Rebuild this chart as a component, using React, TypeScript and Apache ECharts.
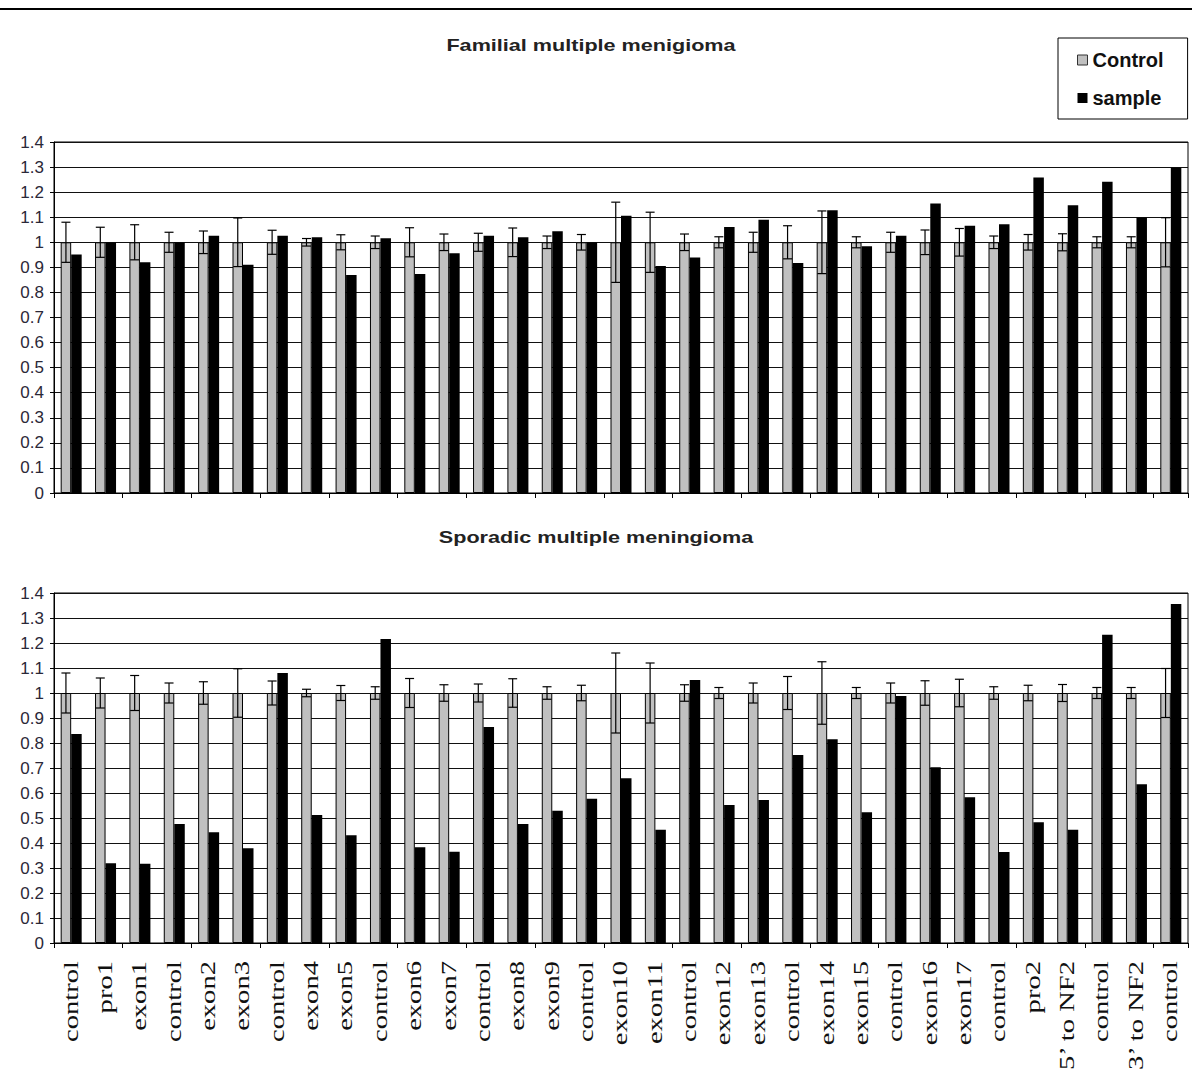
import React, { useEffect, useRef } from "react";
import * as echarts from "echarts";

const categories = [
  "control", "pro1", "exon1", "control", "exon2", "exon3", "control", "exon4", "exon5", "control",
  "exon6", "exon7", "control", "exon8", "exon9", "control", "exon10", "exon11", "control", "exon12",
  "exon13", "control", "exon14", "exon15", "control", "exon16", "exon17", "control", "pro2",
  "5’ to NF2", "control", "3’ to NF2", "control",
];

const controlValues = [
  1, 1, 1, 1, 1, 1, 1, 1, 1, 1, 1, 1, 1, 1, 1, 1, 1, 1, 1, 1, 1, 1, 1, 1, 1, 1, 1, 1, 1, 1, 1, 1, 1,
];

const controlErrors = [
  0.08, 0.06, 0.07, 0.04, 0.045, 0.097, 0.048, 0.015, 0.03, 0.025,
  0.058, 0.033, 0.036, 0.057, 0.025, 0.031, 0.16, 0.12, 0.033, 0.022,
  0.04, 0.066, 0.125, 0.022, 0.04, 0.049, 0.055, 0.025, 0.031, 0.034,
  0.022, 0.022, 0.098,
];

const familialSample = [
  0.951, 1.0, 0.92, 1.0, 1.026, 0.91, 1.026, 1.02, 0.87, 1.016,
  0.874, 0.956, 1.026, 1.02, 1.044, 1.0, 1.106, 0.905, 0.939, 1.061,
  1.09, 0.917, 1.128, 0.984, 1.026, 1.155, 1.066, 1.072, 1.258, 1.148,
  1.241, 1.099, 1.298,
];

const sporadicSample = [
  0.836, 0.319, 0.317, 0.476, 0.443, 0.379, 1.08, 0.512, 0.431, 1.216,
  0.383, 0.365, 0.864, 0.476, 0.529, 0.577, 0.659, 0.453, 1.052, 0.552,
  0.572, 0.752, 0.815, 0.523, 0.988, 0.703, 0.583, 0.364, 0.483, 0.453,
  1.233, 0.635, 1.356,
];

const titles = ["Familial multiple menigioma", "Sporadic multiple meningioma"];
const seriesNames = ["Control", "sample"];

const BAR_W = 10.5;
const SANS = '"Liberation Sans", Arial, sans-serif';
const SERIF = '"Liberation Serif", "Times New Roman", serif';

function errorRender(params: any, api: any) {
  const i = api.value(0);
  const lo = api.coord([i, api.value(1)]);
  const hi = api.coord([i, api.value(2)]);
  const x = hi[0] - BAR_W / 2;
  const cap = 4.5;
  const st = { stroke: "#000", lineWidth: 1.2 };
  return {
    type: "group",
    children: [
      { type: "line", shape: { x1: x, y1: lo[1], x2: x, y2: hi[1] }, style: st },
      { type: "line", shape: { x1: x - cap, y1: hi[1], x2: x + cap, y2: hi[1] }, style: st },
      { type: "line", shape: { x1: x - cap, y1: lo[1], x2: x + cap, y2: lo[1] }, style: st },
    ],
  };
}

function labelRender(params: any, api: any) {
  const i = api.value(0);
  const p = api.coord([i, 0]);
  return {
    type: "text",
    x: p[0] - 1,
    y: p[1] + 18,
    rotation: Math.PI / 2,
    scaleX: 1.3,
    style: {
      text: categories[params.dataIndex],
      font: `22px ${SERIF}`,
      fill: "#111",
      align: "right",
      verticalAlign: "middle",
      textAlign: "right",
      textVerticalAlign: "middle",
    },
  };
}

export default function App() {
  const ref = useRef<HTMLDivElement>(null);

  useEffect(() => {
    if (!ref.current) return;
    const chart = echarts.init(ref.current, undefined, { renderer: "svg" });

    const grids = [
      { left: 54, top: 142, width: 1134, height: 351 },
      { left: 54, top: 593, width: 1134, height: 350 },
    ];
    const samples = [familialSample, sporadicSample];

    const xAxes = grids.map((_, g) => ({
      type: "category",
      gridIndex: g,
      data: categories,
      axisLine: { lineStyle: { color: "#000", width: 1 } },
      axisTick: { show: true, length: 5, lineStyle: { color: "#000" } },
      axisLabel: { show: false },
      splitLine: { show: false },
    }));

    const yAxes = grids.map((_, g) => ({
      type: "value",
      gridIndex: g,
      min: 0,
      max: 1.4,
      interval: 0.1,
      axisLine: { show: true, lineStyle: { color: "#000", width: 1 } },
      axisTick: { show: true, length: 4, lineStyle: { color: "#000" } },
      axisLabel: {
        fontSize: 17,
        color: "#2b2838",
        fontFamily: SANS,
        margin: 10,
        formatter: (v: number) => String(Math.round(v * 10) / 10),
      },
      splitLine: { show: true, lineStyle: { color: "#111", width: 1.2 } },
    }));

    const series: any[] = [];
    grids.forEach((_, g) => {
      series.push({
        name: seriesNames[0],
        type: "bar",
        xAxisIndex: g,
        yAxisIndex: g,
        data: controlValues,
        barWidth: BAR_W,
        barGap: "0%",
        itemStyle: { color: "#c0c0c0", borderColor: "#000", borderWidth: 1 },
      });
      series.push({
        name: seriesNames[1],
        type: "bar",
        xAxisIndex: g,
        yAxisIndex: g,
        data: samples[g],
        barWidth: BAR_W,
        barGap: "0%",
        itemStyle: { color: "#000" },
      });
      series.push({
        type: "custom",
        name: "err" + g,
        xAxisIndex: g,
        yAxisIndex: g,
        z: 5,
        data: controlValues.map((v, i) => [i, v - controlErrors[i], v + controlErrors[i]]),
        encode: { x: 0, y: [1, 2] },
        renderItem: errorRender,
      });
    });
    series.push({
      type: "custom",
      name: "xlabels",
      xAxisIndex: 1,
      yAxisIndex: 1,
      clip: false,
      data: categories.map((_, i) => [i, 0]),
      encode: { x: 0, y: 1 },
      renderItem: labelRender,
    });

    chart.setOption({
      animation: false,
      backgroundColor: "#fff",
      textStyle: { fontFamily: SANS },
      grid: grids.map((g) => ({ ...g, show: true, borderColor: "#000", borderWidth: 1, backgroundColor: "transparent" })),
      xAxis: xAxes,
      yAxis: yAxes,
      legend: {
        orient: "vertical",
        left: 1058,
        top: 38,
        padding: [12, 24, 11, 19],
        itemGap: 18,
        itemWidth: 10,
        itemHeight: 10,
        borderColor: "#000",
        borderWidth: 1,
        selectedMode: false,
        icon: "rect",
        textStyle: { fontSize: 20, fontWeight: "bold", fontFamily: SANS, color: "#111", lineHeight: 20 },
        data: [
          { name: seriesNames[0], itemStyle: { color: "#c0c0c0", borderColor: "#333", borderWidth: 1 } },
          { name: seriesNames[1], itemStyle: { color: "#000" } },
        ],
      },
      graphic: [
        {
          type: "line",
          shape: { x1: 0, y1: 9, x2: 1192, y2: 9 },
          style: { stroke: "#000", lineWidth: 2 },
        },
        {
          type: "text",
          x: 591,
          y: 46,
          scaleX: 1.35,
          style: {
            text: titles[0],
            font: `bold 16px ${SANS}`,
            fill: "#222",
            align: "center",
            verticalAlign: "middle",
            textAlign: "center",
            textVerticalAlign: "middle",
          },
        },
        {
          type: "text",
          x: 596,
          y: 538,
          scaleX: 1.35,
          style: {
            text: titles[1],
            font: `bold 16px ${SANS}`,
            fill: "#222",
            align: "center",
            verticalAlign: "middle",
            textAlign: "center",
            textVerticalAlign: "middle",
          },
        },
      ],
      series,
    });

    return () => chart.dispose();
  }, []);

  return (
    <div
      ref={ref}
      style={{ position: "fixed", left: 0, top: 0, width: 1192, height: 1070, background: "#fff" }}
    />
  );
}
